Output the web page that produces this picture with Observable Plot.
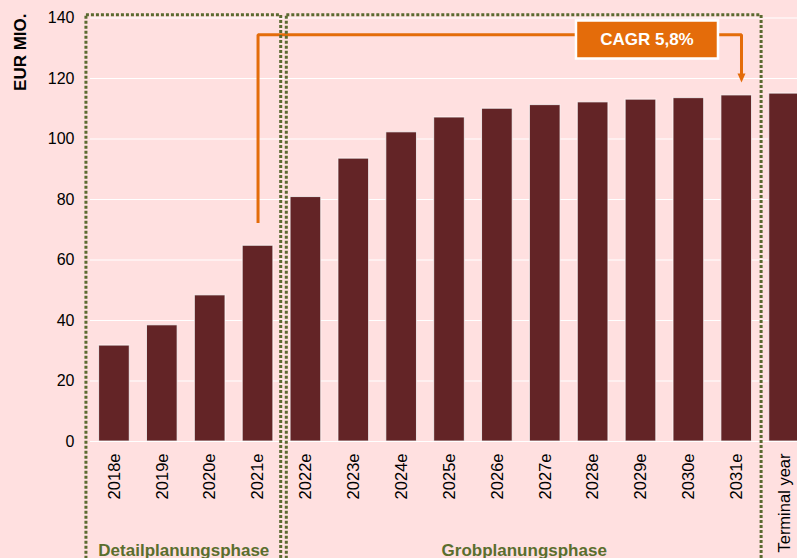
<!DOCTYPE html>
<html>
<head>
<meta charset="utf-8">
<script src="https://cdn.jsdelivr.net/npm/d3@7"></script>
<script src="https://cdn.jsdelivr.net/npm/@observablehq/plot@0.6"></script>
<style>
  html, body { margin: 0; padding: 0; background: #ffe0e0; overflow: hidden; }
</style>
</head>
<body>
<div id="chart"></div>
<script>
// ---- data ----
const categories = ["2018e", "2019e", "2020e", "2021e", "2022e", "2023e", "2024e", "2025e", "2026e", "2027e", "2028e", "2029e", "2030e", "2031e", "Terminal year"];
const values = [31.7, 38.4, 48.3, 64.7, 80.8, 93.5, 102.2, 107.1, 110.0, 111.2, 112.1, 113.0, 113.5, 114.4, 115.0];
const yTicks = [0, 20, 40, 60, 80, 100, 120, 140];
const yLabel = "EUR MIO.";
const phaseNames = ["Detailplanungsphase", "Grobplanungsphase"];
const phaseStart = [-0.585, 3.601];   // box edges in category-index units
const phaseEnd = [3.484, 13.52];
const cagrLabel = "CAGR 5,8%";
const cagrFrom = "2021e";
const cagrTo = "2031e";
const cagrFromValue = 72.2;   // where the bracket starts above the 2021e bar
const cagrLevel = 134.5;      // bracket height
const cagrToValue = 118.7;    // arrow tip above the 2031e bar
const cagrBoxAt = "2029e";
const cagrBoxValue = 132.9;

// ---- styles ----
const BG = "#ffe0e0";
const BAR = "#632426";
const ORANGE = "#e46c0a";
const OLIVE = "#5b6a30";
const OLIVE_TEXT = "#5a6e2e";
const FONT = "'Liberation Sans', Arial, Helvetica, sans-serif";

const data = categories.map((c, i) => ({i, c, v: values[i]}));
const phases = phaseNames.map((n, k) => ({name: n, x1: phaseStart[k], x2: phaseEnd[k]}));
const iFrom = categories.indexOf(cagrFrom);
const iTo = categories.indexOf(cagrTo);
const arrowX = iTo + 0.1;
const bracket = [
  {x: iFrom, y: cagrFromValue},
  {x: iFrom, y: cagrLevel},
  {x: arrowX, y: cagrLevel},
  {x: arrowX, y: cagrToValue + 2.5}
];

const rectSymbol = {
  draw(ctx) {
    ctx.moveTo(-71, -19); ctx.lineTo(71, -19); ctx.lineTo(71, 19); ctx.lineTo(-71, 19); ctx.closePath();
  }
};
const arrowHead = {
  draw(ctx) {
    ctx.moveTo(-4, -9); ctx.lineTo(4, -9); ctx.lineTo(0, 0); ctx.closePath();
  }
};

const chart = Plot.plot({
  width: 797,
  height: 558,
  marginLeft: 90,
  marginRight: 0,
  marginTop: 17.5,
  marginBottom: 117,
  style: {background: BG, fontFamily: FONT, color: "#000", overflow: "hidden"},
  x: {type: "linear", domain: [-0.5, 14.27]},
  y: {domain: [0, 140]},
  marks: [
    Plot.gridY(yTicks, {stroke: "#ffffff", strokeOpacity: 1, strokeWidth: 1.2}),
    Plot.axisY({ticks: yTicks, tickSize: 0, tickPadding: 16, fontSize: 16, label: null}),
    Plot.axisX({ticks: categories.map((_, i) => i), tickFormat: i => categories[i], tickRotate: -90, tickSize: 0, tickPadding: 12, fontSize: 16.5, label: null}),
    Plot.rectY(data, {x1: d => d.i - 0.32, x2: d => d.i + 0.32, y1: 0, y2: "v", fill: BAR, stroke: "#ffffff", strokeWidth: 1, strokeOpacity: 0.75}),
    Plot.line(bracket, {x: "x", y: "y", stroke: ORANGE, strokeWidth: 3, strokeLinejoin: "miter", strokeLinecap: "butt"}),
    Plot.dot([{x: arrowX, y: cagrToValue}], {x: "x", y: "y", symbol: arrowHead, fill: ORANGE, stroke: "none"}),
    Plot.rect(phases, {x1: "x1", x2: "x2", y1: -40, y2: 140.9, fill: "none", stroke: OLIVE, strokeWidth: 3, strokeDasharray: "3 2"}),
    Plot.dot([cagrBoxAt], {x: d => categories.indexOf(d), y: () => cagrBoxValue, dx: 6, symbol: rectSymbol, fill: ORANGE, stroke: "#ffffff", strokeWidth: 2.5}),
    Plot.text([cagrLabel], {x: () => categories.indexOf(cagrBoxAt), y: () => cagrBoxValue, dx: 6, text: d => d, fill: "#ffffff", fontSize: 17, fontWeight: "bold", lineAnchor: "middle"}),
    Plot.text(phases, {x: d => (d.x1 + d.x2) / 2, frameAnchor: "bottom", dy: 114, text: "name", fill: OLIVE_TEXT, fontSize: 17, fontWeight: "bold", lineAnchor: "bottom"}),
    Plot.text([yLabel], {frameAnchor: "top-left", dx: -70, dy: -4.5, rotate: -90, textAnchor: "end", lineAnchor: "middle", fontSize: 17, fontWeight: "bold", fill: "#000"})
  ]
});
document.getElementById("chart").appendChild(chart);
</script>
</body>
</html>
